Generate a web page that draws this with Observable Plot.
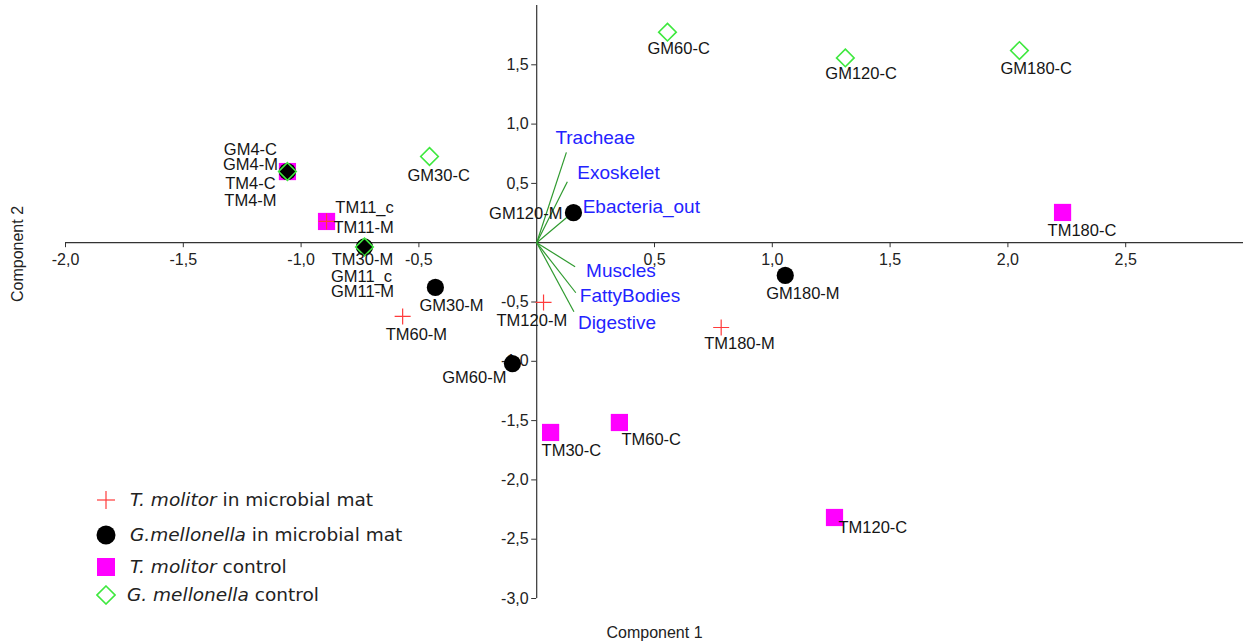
<!DOCTYPE html>
<html>
<head>
<meta charset="utf-8">
<script src="https://cdn.jsdelivr.net/npm/d3@7"></script>
<script src="https://cdn.jsdelivr.net/npm/@observablehq/plot@0.6"></script>
<style>
  body { margin: 0; background: #fff; }
  #wrap { position: relative; width: 1243px; height: 644px; overflow: hidden; }
  #legend { position: absolute; left: 0; top: 0; font-family: "DejaVu Sans", Verdana, sans-serif; font-size: 18.5px; color: #222; }
  .row { position: absolute; height: 20px; display: flex; align-items: center; white-space: nowrap; }
  .row svg { position: absolute; left: 0; top: 0; }
  .row span { position: absolute; top: 0; line-height: 20px; }
</style>
</head>
<body>
<div id="wrap"></div>
<script>
// ---------------- data ----------------
// T. molitor in microbial mat (red crosses)
const tmMatNames = ["TM4-M", "TM11-M", "TM30-M", "TM60-M", "TM120-M", "TM180-M"];
const tmMatPC1   = [-1.058, -0.892, -0.731, -0.569, 0.029, 0.783];
const tmMatPC2   = [0.600, 0.179, -0.036, -0.622, -0.504, -0.715];

// G. mellonella in microbial mat (black circles)
const gmMatNames = ["GM4-M", "GM11-M", "GM30-M", "GM60-M", "GM120-M", "GM180-M"];
const gmMatPC1   = [-1.058, -0.731, -0.430, -0.103, 0.156, 1.055];
const gmMatPC2   = [0.600, -0.036, -0.377, -1.019, 0.253, -0.276];

// T. molitor control (magenta squares)
const tmCtrlNames = ["TM4-C", "TM11_c", "TM30-C", "TM60-C", "TM120-C", "TM180-C"];
const tmCtrlPC1   = [-1.058, -0.892, 0.059, 0.351, 1.264, 2.232];
const tmCtrlPC2   = [0.600, 0.179, -1.600, -1.516, -2.317, 0.255];

// G. mellonella control (green diamonds)
const gmCtrlNames = ["GM4-C", "GM11_c", "GM30-C", "GM60-C", "GM120-C", "GM180-C"];
const gmCtrlPC1   = [-1.058, -0.731, -0.455, 0.555, 1.310, 2.049];
const gmCtrlPC2   = [0.600, -0.036, 0.727, 1.775, 1.558, 1.620];

// variable loadings (green lines, blue labels)
const loadNames = ["Tracheae", "Exoskelet", "Ebacteria_out", "Muscles", "FattyBodies", "Digestive"];
const loadPC1   = [0.126, 0.130, 0.140, 0.163, 0.166, 0.158];
const loadPC2   = [0.762, 0.514, 0.234, -0.202, -0.422, -0.582];

// axis ticks
const xTicks = [-2.0, -1.5, -1.0, -0.5, 0.5, 1.0, 1.5, 2.0, 2.5];
const yTicks = [1.5, 1.0, 0.5, -0.5, -1.0, -1.5, -2.0, -2.5, -3.0];
const xTitle = "Component 1";
const yTitle = "Component 2";

// ---------------- layout (pixel nudges of labels) ----------------
const labelLayout = {
  "GM60-C": ["start", -20, 17], "GM120-C": ["start", -20, 16], "GM180-C": ["start", -19, 18],
  "GM30-C": ["start", -22, 19], "TM180-C": ["start", -15, 18], "TM30-C": ["start", -9, 18],
  "TM60-C": ["start", 2, 17], "TM120-C": ["start", 4, 10], "GM180-M": ["start", -19, 18],
  "GM30-M": ["start", -16, 18], "TM60-M": ["start", -17, 18], "TM120-M": ["start", -47, 18],
  "TM180-M": ["start", -17, 16], "GM60-M": ["end", -6, 14], "GM120-M": ["end", -11, 1],
  "GM4-C": ["middle", -37, -22], "GM4-M": ["middle", -37, -7], "TM4-C": ["middle", -37, 12], "TM4-M": ["middle", -37, 29],
  "TM11_c": ["middle", 38, -14], "TM11-M": ["middle", 37, 6],
  "TM30-M": ["middle", -2, 13], "GM11_c": ["middle", -3, 30], "GM11-M": ["middle", -2, 45]
};
const loadLayout = {
  "Tracheae": ["start", -11, -14], "Exoskelet": ["start", 10, -9], "Ebacteria_out": ["start", 13, -8],
  "Muscles": ["start", 11, 4], "FattyBodies": ["start", 4, 3], "Digestive": ["start", 4, 11]
};

// ---------------- build ----------------
const rows = (names, a, b) => names.map((n, i) => ({name: n, x: a[i], y: b[i]}));
const tmMat = rows(tmMatNames, tmMatPC1, tmMatPC2);
const gmMat = rows(gmMatNames, gmMatPC1, gmMatPC2);
const tmCtrl = rows(tmCtrlNames, tmCtrlPC1, tmCtrlPC2);
const gmCtrl = rows(gmCtrlNames, gmCtrlPC1, gmCtrlPC2);
const loads = rows(loadNames, loadPC1, loadPC2);
const allPts = [...tmMat, ...gmMat, ...tmCtrl, ...gmCtrl];

const rad = (size) => Math.sqrt(size / Math.PI);
const crossSym = {draw(c, s) { const r = rad(s); c.moveTo(-r, 0); c.lineTo(r, 0); c.moveTo(0, -r); c.lineTo(0, r); }};
const diamondSym = {draw(c, s) { const r = rad(s); c.moveTo(0, -r); c.lineTo(r, 0); c.lineTo(0, r); c.lineTo(-r, 0); c.closePath(); }};
const squareSym = {draw(c, s) { const r = rad(s); c.rect(-r, -r, 2 * r, 2 * r); }};

const fmt = (v) => v.toFixed(1).replace(".", ",");
const AX = "#333";
const RED = "#ff3b3b", MAG = "#ff00ff", GRN = "#3ee83e", LOADC = "#2f9a2f", BLUE = "#2323ff";

const labelMarks = allPts.map(d => {
  const [anchor, dx, dy] = labelLayout[d.name];
  return Plot.text([d], {x: "x", y: "y", text: "name", textAnchor: anchor, dx, dy, fontSize: 16.5, fill: "#151515"});
});
const loadLabelMarks = loads.map(d => {
  const [anchor, dx, dy] = loadLayout[d.name];
  return Plot.text([d], {x: "x", y: "y", text: "name", textAnchor: anchor, dx, dy, fontSize: 19, fill: BLUE});
});

const chart = Plot.plot({
  width: 1243,
  height: 644,
  marginTop: 5,
  marginBottom: 46,
  marginLeft: 65,
  marginRight: 0,
  x: {domain: [-2, 3], axis: null},
  y: {domain: [-3, 2], axis: null},
  style: {fontFamily: "'Liberation Sans', Arial, sans-serif", fontSize: "16px", background: "#fff"},
  marks: [
    Plot.ruleY([0], {stroke: AX, strokeWidth: 1.2}),
    Plot.ruleX([0], {stroke: AX, strokeWidth: 1.2}),
    Plot.ruleX(xTicks, {x: d => d, y1: 0, y2: 0, insetBottom: -5, stroke: AX}),
    Plot.ruleY(yTicks, {y: d => d, x1: 0, x2: 0, insetLeft: -5, stroke: AX}),
    Plot.text(xTicks, {x: d => d, y: 0, text: fmt, dy: 17, fontSize: 16, fill: "#222"}),
    Plot.text(yTicks, {x: 0, y: d => d, text: fmt, textAnchor: "end", dx: -8, fontSize: 16, fill: "#222"}),
    Plot.text([xTitle], {frameAnchor: "bottom", text: d => d, dy: 39, fontSize: 16, fill: "#222"}),
    Plot.text([yTitle], {frameAnchor: "left", text: d => d, dx: -48, rotate: -90, fontSize: 16, fill: "#222"}),
    Plot.link(loads, {x1: 0, y1: 0, x2: "x", y2: "y", stroke: LOADC, strokeWidth: 1.2}),
    ...loadLabelMarks,
    Plot.dot(tmCtrl, {x: "x", y: "y", symbol: squareSym, r: 8.6, fill: MAG, stroke: "none"}),
    Plot.dot(tmMat, {x: "x", y: "y", symbol: crossSym, r: 8, fill: "none", stroke: RED, strokeWidth: 1.2}),
    Plot.dot(gmMat, {x: "x", y: "y", symbol: "circle", r: 8.6, fill: "#000", stroke: "none"}),
    Plot.dot(gmCtrl, {x: "x", y: "y", symbol: diamondSym, r: 8.8, fill: "none", stroke: GRN, strokeWidth: 1.6}),
    ...labelMarks
  ]
});

const wrap = document.getElementById("wrap");
wrap.appendChild(chart);

// ---------------- legend ----------------
const legendItems = [
  {html: "<i>T. molitor</i> in microbial mat", sw: `<line x1="1" y1="10" x2="19" y2="10" stroke="${RED}" stroke-width="1.2"/><line x1="10" y1="1" x2="10" y2="19" stroke="${RED}" stroke-width="1.2"/>`, top: 490, tx: 34},
  {html: "<i>G.mellonella</i> in microbial mat", sw: `<circle cx="10" cy="10" r="9.5" fill="#000"/>`, top: 525, tx: 34},
  {html: "<i>T. molitor</i> control", sw: `<rect x="1" y="1" width="18" height="18" fill="${MAG}"/>`, top: 557, tx: 34},
  {html: "<i>G. mellonella</i> control", sw: `<path d="M10 1 L19 10 L10 19 L1 10 Z" fill="none" stroke="${GRN}" stroke-width="1.6"/>`, top: 585, tx: 31}
];
const lg = document.createElement("div");
lg.id = "legend";
legendItems.forEach(it => {
  const r = document.createElement("div");
  r.className = "row";
  r.style.left = "96px";
  r.style.top = it.top + "px";
  r.innerHTML = `<svg width="20" height="20" viewBox="0 0 20 20">${it.sw}</svg><span style="left:${it.tx}px">${it.html}</span>`;
  lg.appendChild(r);
});
wrap.appendChild(lg);
</script>
</body>
</html>
